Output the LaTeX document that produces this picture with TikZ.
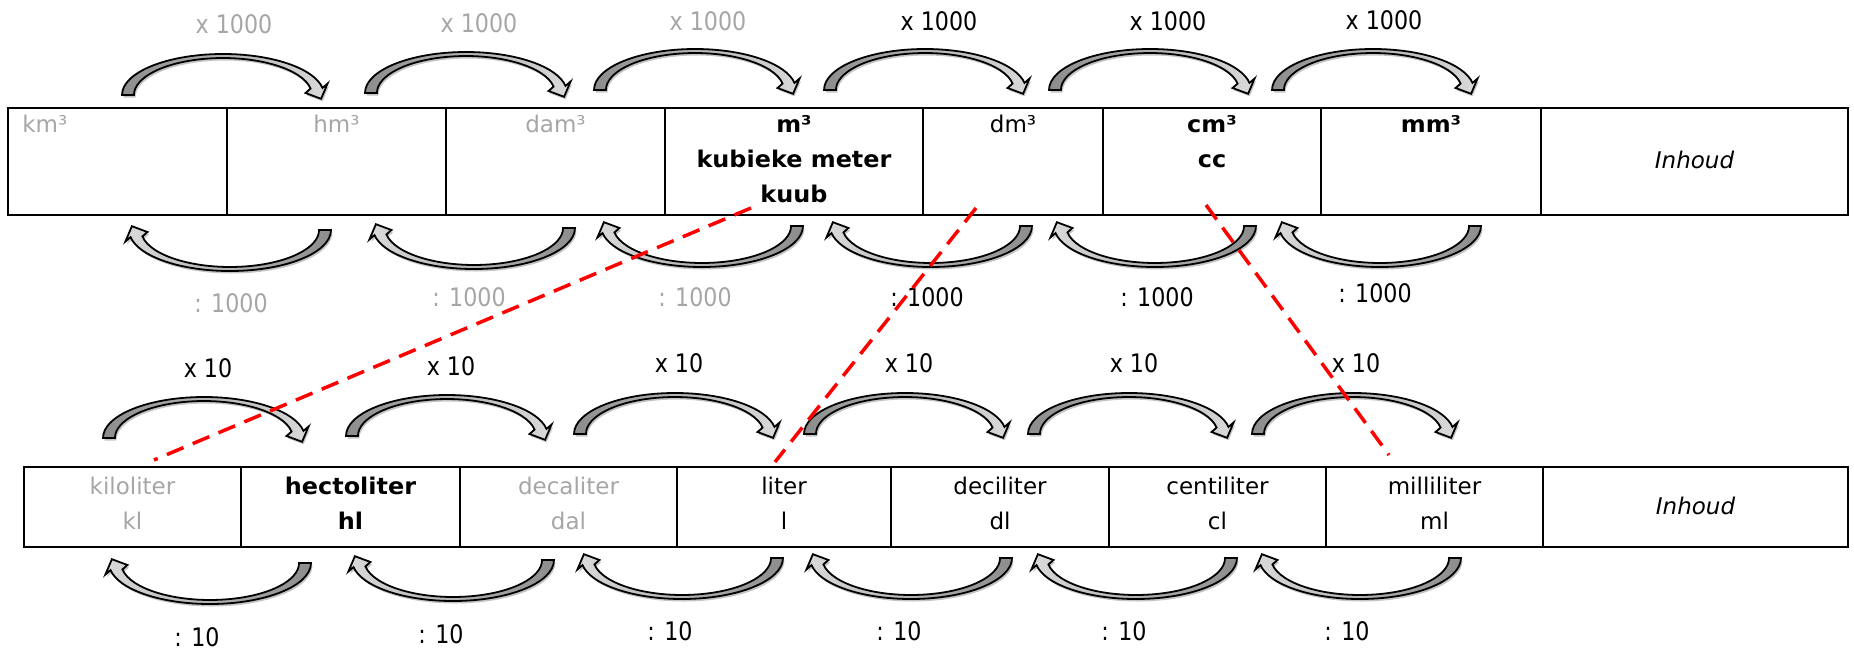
\documentclass[tikz,border=0pt]{standalone}
\usepackage{fontspec}
\setmainfont{DejaVu Sans}[BoldFeatures={FakeStretch=1.04}]
\newfontfamily\labelfont[FakeStretch=0.87]{DejaVu Sans}
\usetikzlibrary{positioning}
\definecolor{faded}{HTML}{A6A6A6}
\definecolor{bowdark}{HTML}{8C8C8C}
\definecolor{bowlight}{HTML}{DADADA}
\definecolor{bowshade}{HTML}{C4C4C4}
\newcommand\cellfont{\fontsize{11.5}{17.5}\selectfont}
\newcommand\cs{\rule[-5.25pt]{0pt}{17.5pt}}
\tikzset{
  cell/.style={draw=black, line width=1pt, inner sep=0pt, outer sep=0pt},
  topcell/.style={cell, minimum height=53.5pt},
  botcell/.style={cell, minimum height=40pt},
  celltext/.style={anchor=north, inner sep=0pt, align=center, font=\cellfont},
  boldtext/.style={celltext, font=\cellfont\bfseries},
  factor/.style={anchor=base, inner sep=0pt, font=\labelfont\fontsize{12.75}{15}\selectfont},
  bow path/.style={insert path={(-6,0) arc[start angle=180, end angle=10, x radius=101, y radius=41]
    -- (199.6,11.5) -- (193.1,-3.8) -- (177.5,2.0) -- (182.6,6.4)
    arc[start angle=10, end angle=180, x radius=89, y radius=37] -- cycle}},
  bowbody/.style={draw=black, line width=0.9pt, line join=miter},
  pics/overbow/.style={code={
    \begin{scope}[yscale=-1]
      \fill[bowshade, shift={(1.5,-2.5)}, bow path];
      \shadedraw[bowbody, left color=bowdark, right color=bowlight, bow path];
    \end{scope}}},
  pics/underbow/.style={code={
    \begin{scope}[xscale=-1]
      \fill[bowshade, shift={(-1.5,2.5)}, bow path];
      \shadedraw[bowbody, left color=bowlight, right color=bowdark, bow path];
    \end{scope}}},
  cut/.style={red, line width=1.75pt, dash pattern=on 9pt off 5pt}
}

\begin{document}
\begin{tikzpicture}[x=0.5pt, y=-0.5pt]
\useasboundingbox (0,0) rectangle (1854,654);
% kubieke maten
\node[topcell, minimum width=109.5pt, anchor=north west] (km) at (8,108) {};
\node[topcell, minimum width=109.5pt, right=0pt of km] (hm) {};
\node[topcell, minimum width=109.5pt, right=0pt of hm] (dam) {};
\node[topcell, minimum width=129pt, right=0pt of dam] (m) {};
\node[topcell, minimum width=90pt, right=0pt of m] (dm) {};
\node[topcell, minimum width=109pt, right=0pt of dm] (cm) {};
\node[topcell, minimum width=110pt, right=0pt of cm] (mm) {};
\node[topcell, minimum width=153.5pt, right=0pt of mm] (vol1) {};
\node[celltext, text=faded, anchor=north west] (km-t) at ([xshift=7pt]km.north west) {\cs km³};
\node[celltext, text=faded] (hm-t) at (hm.north) {\cs hm³};
\node[celltext, text=faded] (dam-t) at (dam.north) {\cs dam³};
\node[boldtext] (m-t) at (m.north) {\cs m³\\kubieke meter\\kuub};
\node[celltext] (dm-t) at (dm.north) {\cs dm³};
\node[boldtext] (cm-t) at (cm.north) {\cs cm³\\cc};
\node[boldtext] (mm-t) at (mm.north) {\cs mm³};
\node[celltext, anchor=center, font=\cellfont\itshape] (vol1-t) at (vol1) {\cs Inhoud};
% liters
\node[botcell, minimum width=108.5pt, anchor=north west] (kl) at (24,467) {};
\node[botcell, minimum width=109.5pt, right=0pt of kl] (hl) {};
\node[botcell, minimum width=108.5pt, right=0pt of hl] (dal) {};
\node[botcell, minimum width=107pt, right=0pt of dal] (l) {};
\node[botcell, minimum width=109pt, right=0pt of l] (dl) {};
\node[botcell, minimum width=108.5pt, right=0pt of dl] (cl) {};
\node[botcell, minimum width=108.5pt, right=0pt of cl] (ml) {};
\node[botcell, minimum width=152.5pt, right=0pt of ml] (vol2) {};
\node[celltext, text=faded] (kl-t) at ([yshift=-1.25pt]kl.north) {\cs kiloliter\\kl};
\node[boldtext] (hl-t) at ([yshift=-1.25pt]hl.north) {\cs hectoliter\\hl};
\node[celltext, text=faded] (dal-t) at ([yshift=-1.25pt]dal.north) {\cs decaliter\\dal};
\node[celltext] (l-t) at ([yshift=-1.25pt]l.north) {\cs liter\\l};
\node[celltext] (dl-t) at ([yshift=-1.25pt]dl.north) {\cs deciliter\\dl};
\node[celltext] (cl-t) at ([yshift=-1.25pt]cl.north) {\cs centiliter\\cl};
\node[celltext] (ml-t) at ([yshift=-1.25pt]ml.north) {\cs milliliter\\ml};
\node[celltext, anchor=center, font=\cellfont\itshape] (vol2-t) at (vol2) {\cs Inhoud};
% bogen
\foreach \x/\y in {128/95, 371/93, 600/90, 830/90, 1055/90, 1278/90}
  \pic at (\x,\y) {overbow};
\foreach \x/\y in {325/230, 569/228, 797/226, 1026/226, 1250/226, 1475/226}
  \pic at (\x,\y) {underbow};
\foreach \x/\y in {109/438, 352/436, 580/434, 810/434, 1034/434, 1258/434}
  \pic at (\x,\y) {overbow};
\foreach \x/\y in {305/563, 548/560, 777/558, 1006/558, 1231/558, 1455/558}
  \pic at (\x,\y) {underbow};
\foreach \x/\y/\c [count=\i] in {234/33/faded, 479/32/faded, 708/30/faded, 939/30/black, 1168/30/black, 1384/29/black}
  \node[factor, text=\c] (up\i) at (\x,\y) {x 1000};
\foreach \x/\y/\c [count=\i] in {231/312/faded, 469/306/faded, 695/306/faded, 927/306/black, 1157/306/black, 1375/302/black}
  \node[factor, text=\c] (down\i) at (\x,\y) {: 1000};
\foreach \x/\y [count=\i] in {208/377, 451/375, 679/372, 909/372, 1134/372, 1356/372}
  \node[factor] (lup\i) at (\x,\y) {x 10};
\foreach \x/\y [count=\i] in {197/646, 441/643, 670/640, 899/640, 1124/640, 1347/640}
  \node[factor] (ldown\i) at (\x,\y) {: 10};
% verbanden
\coordinate (from-m3) at (751,208);
\coordinate (to-hl) at (154,460);
\coordinate (from-dm3) at (976,208);
\coordinate (to-l) at (775,462);
\coordinate (from-cm3) at (1206,205);
\coordinate (to-ml) at (1389,455);
\draw[cut] (from-m3) -- (to-hl);
\draw[cut] (from-dm3) -- (to-l);
\draw[cut] (from-cm3) -- (to-ml);
\end{tikzpicture}
\end{document}
